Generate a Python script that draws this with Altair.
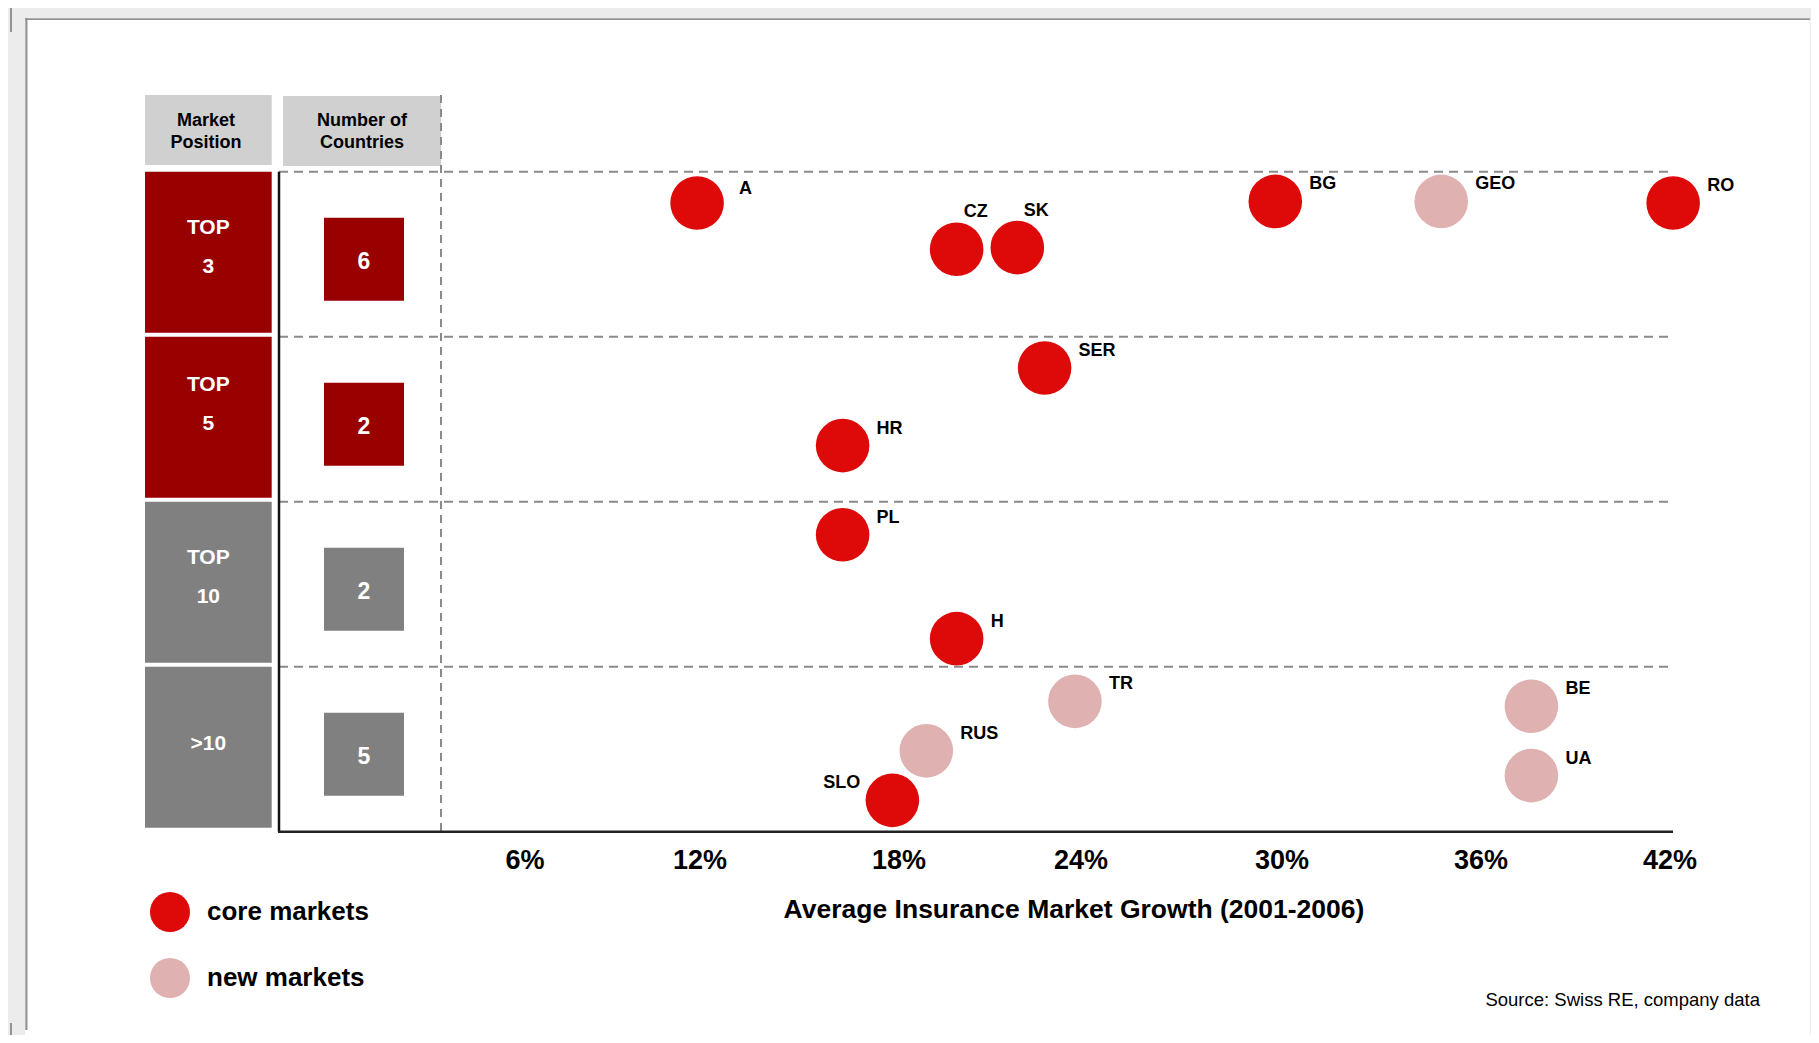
import altair as alt
import pandas as pd

FONT = "Liberation Sans, Arial, sans-serif"

# ---------------- data ----------------
countries = ["A", "CZ", "SK", "BG", "GEO", "RO", "SER", "HR", "PL", "H", "TR", "RUS", "SLO", "BE", "UA"]
growth = [11.9, 19.9, 21.9, 29.8, 34.8, 42.1, 22.8, 16.3, 16.3, 19.9, 23.8, 18.9, 17.8, 37.6, 37.6]
row_position = [3.81, 3.53, 3.54, 3.82, 3.82, 3.81, 2.81, 2.34, 1.80, 1.17, 0.79, 0.49, 0.19, 0.76, 0.34]
market_type = ["core markets", "core markets", "core markets", "core markets", "new markets",
               "core markets", "core markets", "core markets", "core markets", "core markets",
               "new markets", "new markets", "core markets", "new markets", "new markets"]

tiers = ["TOP\n3", "TOP\n5", "TOP\n10", ">10"]
tier_index = [3, 2, 1, 0]
tier_counts = [6, 2, 2, 5]

x_ticks = [6, 12, 18, 24, 30, 36, 42]
x_tick_labels = ["6%", "12%", "18%", "24%", "30%", "36%", "42%"]
legend_types = ["core markets", "new markets"]

# ---------------- frames ----------------
pts = pd.DataFrame({"country": countries, "growth": growth, "pos": row_position, "type": market_type})
rows = pd.DataFrame({"tier": tiers, "idx": tier_index, "count": tier_counts})
rows["hi"] = rows["idx"] + 1
rows["lo"] = rows["idx"]
rows["mid"] = rows["idx"] + 0.5
bounds = pd.DataFrame({"b": [1, 2, 3, 4]})
ticks = pd.DataFrame({"v": x_ticks, "lab": x_tick_labels})
one = pd.DataFrame({"k": [0]})

xscale = alt.Scale(domain=x_ticks, range=[517, 692, 891, 1073, 1274, 1473, 1662], zero=False, nice=False)
yscale = alt.Scale(domain=[0, 4], range=[823.7, 163.7], zero=False, nice=False)


def box(x, x2, y, y2, color):
    return alt.Chart(one).mark_rect(color=color).encode(
        x=alt.value(x), x2=alt.value(x2), y=alt.value(y), y2=alt.value(y2))


# decoration frame
panel = box(17, 1802, 10, 1028, "white")
top_line = box(17, 1802, 10.3, 12, "#939393")
left_line = box(17.3, 19.5, 10, 1022, "#939393")
corner1 = box(2, 4, 0, 24, "#939393")
corner2 = box(2, 4, 1015, 1027, "#939393")

# header boxes
hdr1 = box(137, 263.7, 87, 157, "#d0d0d0")
hdr2 = box(275, 433, 88, 158, "#d0d0d0")
hdr_text = alt.Chart(pd.DataFrame({"t": ["Market\nPosition", "Number of\nCountries"], "xp": [198, 354]})).mark_text(
    font=FONT, fontSize=18, fontWeight="bold", color="black", lineBreak="\n", lineHeight=22.2,
    align="center", baseline="middle").encode(
    x=alt.X("xp:Q", scale=None), y=alt.value(112.6), text="t:N")

tier_color = alt.condition("datum.idx >= 2", alt.value("#990000"), alt.value("#808080"))

tier_rect = alt.Chart(rows).mark_rect(y2Offset=-4).encode(
    x=alt.value(137), x2=alt.value(263.7),
    y=alt.Y("hi:Q", scale=yscale, axis=None), y2="lo:Q",
    color=tier_color)
tier_kw = dict(font=FONT, fontSize=21, fontWeight="bold", color="white", lineBreak="\n", lineHeight=39,
               align="center", baseline="middle")
tier_enc = dict(x=alt.value(200.3), y=alt.Y("mid:Q", scale=yscale, axis=None), text="tier:N")
tier_text_a = alt.Chart(rows).transform_filter("datum.idx == 1 || datum.idx == 3").mark_text(
    dy=-26, **tier_kw).encode(**tier_enc)
tier_text_b = alt.Chart(rows).transform_filter("datum.idx == 2").mark_text(
    dy=-34, **tier_kw).encode(**tier_enc)
tier_text_c = alt.Chart(rows).transform_filter("datum.idx < 1").mark_text(
    dy=-5, **tier_kw).encode(**tier_enc)

square_path = "M-0.964,-1L0.964,-1L0.964,1L-0.964,1Z"
count_sq = alt.Chart(rows).mark_point(shape=square_path, size=6889, filled=True, opacity=1,
                                      strokeWidth=0, yOffset=5).encode(
    x=alt.value(356), y=alt.Y("mid:Q", scale=yscale, axis=None), color=tier_color)
count_text = alt.Chart(rows).mark_text(
    font=FONT, fontSize=23, fontWeight="bold", color="white", align="center", baseline="middle", dy=8).encode(
    x=alt.value(356), y=alt.Y("mid:Q", scale=yscale, axis=None), text="count:Q")

# grid lines
hdash = alt.Chart(bounds).mark_rule(color="#8a8a8a", strokeWidth=2, strokeDash=[9, 6]).encode(
    x=alt.value(271), x2=alt.value(1664), y=alt.Y("b:Q", scale=yscale, axis=None))
vdash = alt.Chart(one).mark_rule(color="#8a8a8a", strokeWidth=2, strokeDash=[8, 6]).encode(
    x=alt.value(433), y=alt.value(87), y2=alt.value(824))
left_axis = alt.Chart(pd.DataFrame({"t": [4], "b": [0]})).mark_rule(color="#111", strokeWidth=2.5).encode(
    x=alt.value(271), y=alt.Y("t:Q", scale=yscale, axis=None), y2="b:Q")
bottom_axis = alt.Chart(pd.DataFrame({"b": [0]})).mark_rule(color="#222", strokeWidth=2.5).encode(
    x=alt.value(270), x2=alt.value(1665), y=alt.Y("b:Q", scale=yscale, axis=None))

# x tick labels
tick_text = alt.Chart(ticks).mark_text(
    font=FONT, fontSize=27, fontWeight="bold", color="black", align="center", baseline="middle").encode(
    x=alt.X("v:Q", scale=xscale, axis=None), y=alt.value(853.4), text="lab:N")

# bubbles
bubbles = alt.Chart(pts).mark_circle(size=2870, opacity=1, strokeWidth=0).encode(
    x=alt.X("growth:Q", scale=xscale, axis=None),
    y=alt.Y("pos:Q", scale=yscale, axis=None),
    color=alt.Color("type:N", scale=alt.Scale(domain=legend_types, range=["#DE0A0A", "#DFB1B1"]),
                    legend=alt.Legend(orient="none", legendX=142, legendY=884, title=None,
                                      symbolSize=1600, symbolType="circle", symbolStrokeWidth=0,
                                      symbolOpacity=1, labelFont=FONT, labelFontSize=26,
                                      labelFontWeight="bold", labelColor="black", labelOffset=17,
                                      rowPadding=26, labelLimit=500, padding=0, direction="vertical")))

above = ["CZ", "SK"]
left = ["SLO"]
far_right = ["A"]
lbl_base = alt.Chart(pts).encode(
    x=alt.X("growth:Q", scale=xscale, axis=None),
    y=alt.Y("pos:Q", scale=yscale, axis=None),
    text="country:N")
txt_kw = dict(font=FONT, fontSize=18, fontWeight="bold", color="black", baseline="middle")
lbl_right = lbl_base.transform_filter(
    {"not": alt.FieldOneOfPredicate(field="country", oneOf=above + left + far_right)}).mark_text(
    align="left", dx=34, dy=-17, **txt_kw)
lbl_far = lbl_base.transform_filter(
    alt.FieldOneOfPredicate(field="country", oneOf=far_right)).mark_text(
    align="left", dx=42, dy=-14, **txt_kw)
lbl_above = lbl_base.transform_filter(
    alt.FieldOneOfPredicate(field="country", oneOf=above)).mark_text(
    align="center", dx=19, dy=-37, **txt_kw)
lbl_left = lbl_base.transform_filter(
    alt.FieldOneOfPredicate(field="country", oneOf=left)).mark_text(
    align="right", dx=-32, dy=-17, **txt_kw)

x_title = alt.Chart(one).mark_text(
    text="Average Insurance Market Growth (2001-2006)", font=FONT, fontSize=26.5, fontWeight="bold",
    color="black", align="center", baseline="middle").encode(x=alt.value(1066), y=alt.value(902))
source = alt.Chart(one).mark_text(
    text="Source: Swiss RE, company data", font=FONT, fontSize=18.5, color="black",
    align="right", baseline="middle").encode(x=alt.value(1752), y=alt.value(992))

chart = alt.layer(
    panel, top_line, left_line, corner1, corner2,
    hdr1, hdr2, hdr_text,
    tier_rect, tier_text_a, tier_text_b, tier_text_c,
    hdash, vdash, left_axis, bottom_axis,
    count_sq, count_text, tick_text,
    bubbles, lbl_right, lbl_far, lbl_above, lbl_left,
    x_title, source,
).properties(
    width=1803, height=1027, padding=0, background="#ececec",
    autosize=alt.AutoSizeParams(type="none"),
).configure_view(stroke=None)

chart.save("out.html", embed_options={"renderer": "svg", "actions": False})
